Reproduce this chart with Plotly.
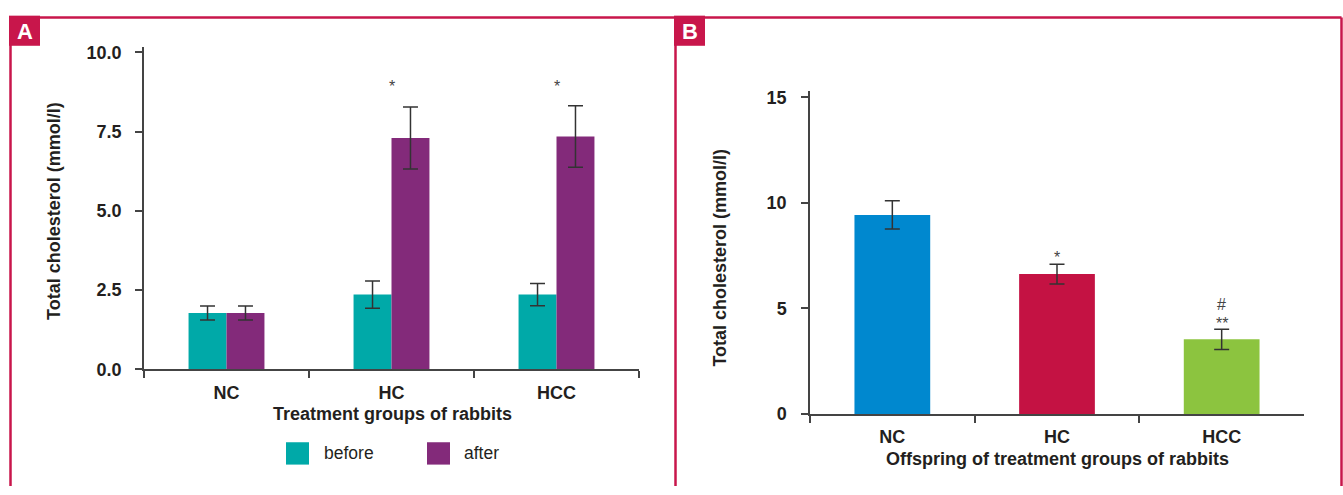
import plotly.graph_objects as go

# ---------------- data ----------------
groups = ["NC", "HC", "HCC"]
before_mean = [1.78, 2.36, 2.36]
before_err = [0.22, 0.43, 0.35]
after_mean = [1.78, 7.30, 7.35]
after_err = [0.22, 0.98, 0.97]
series_names = ["before", "after"]
sig_a_text = ["", "*", "*"]
sig_a_y = [None, 8.92, 8.92]

offspring_mean = [9.43, 6.63, 3.54]
offspring_err = [0.67, 0.47, 0.48]
sig_b = [("HC", 7.42, "*"), ("HCC", 4.30, "**"), ("HCC", 5.19, "#")]

yticks_a = [0, 2.5, 5.0, 7.5, 10.0]
yticks_b = [0, 5, 10, 15]

# ---------------- style ----------------
W, H = 1343, 495
FONT = "Liberation Sans, Arial, Helvetica, sans-serif"
TXT = "#231f20"
AX = "#444444"
RED = "#c8164b"
C_BEFORE = "#00a9a8"
C_AFTER = "#832a7a"
C_B = ["#0088cf", "#c41243", "#8cc43f"]


def px(x):
    return x / W


def py(y):
    return 1 - y / H


err_style = dict(type="data", color="#333333", thickness=1.5, width=7.5, visible=True)

fig = go.Figure()
fig.add_trace(go.Bar(x=groups, y=before_mean, name=series_names[0], marker_color=C_BEFORE,
                     marker_line_width=0, error_y=dict(array=before_err, **err_style),
                     xaxis="x", yaxis="y", showlegend=False))
fig.add_trace(go.Bar(x=groups, y=after_mean, name=series_names[1], marker_color=C_AFTER,
                     marker_line_width=0, error_y=dict(array=after_err, **err_style),
                     xaxis="x", yaxis="y", showlegend=False))
fig.add_trace(go.Bar(x=groups, y=offspring_mean, name="offspring", marker_color=C_B,
                     marker_line_width=0, error_y=dict(array=offspring_err, **err_style),
                     xaxis="x2", yaxis="y2", showlegend=False))

axis_common = dict(showline=True, linecolor=AX, linewidth=1.5, ticks="outside", ticklen=7,
                   tickcolor=AX, tickwidth=1.5, showgrid=False, zeroline=False,
                   tickfont=dict(family=FONT, size=18, color=TXT, weight="bold"),
                   fixedrange=True)

fig.update_layout(
    width=W, height=H, margin=dict(l=0, r=0, t=0, b=0),
    paper_bgcolor="white", plot_bgcolor="white",
    barmode="group", bargap=0.54, bargroupgap=0,
    showlegend=False,
    xaxis=dict(domain=[px(144), px(639)], anchor="y", type="category",
               tickson="boundaries", ticklabelstandoff=6, **axis_common),
    yaxis=dict(domain=[py(376), py(44)], anchor="x", range=[0, 10.18],
               tickvals=yticks_a, tickformat=".1f", ticklabelstandoff=10, **axis_common),
    xaxis2=dict(domain=[px(810), px(1304)], anchor="y2", type="category",
                tickson="boundaries", ticklabelstandoff=6, **axis_common),
    yaxis2=dict(domain=[py(422), py(90)], anchor="x2", range=[0, 15.28],
                tickvals=yticks_b, ticklabelstandoff=11, **axis_common),
)

shapes = []
line = dict(color=RED, width=2.5)
# frame lines
shapes.append(dict(type="line", xref="paper", yref="paper", x0=px(10.5), x1=px(1341.5), y0=py(14), y1=py(14), line=line))
shapes.append(dict(type="line", xref="paper", yref="paper", x0=px(10.5), x1=px(10.5), y0=py(14), y1=py(496), line=line))
shapes.append(dict(type="line", xref="paper", yref="paper", x0=px(675.5), x1=px(675.5), y0=py(14), y1=py(496), line=line))
shapes.append(dict(type="line", xref="paper", yref="paper", x0=px(1341.5), x1=px(1341.5), y0=py(14), y1=py(496), line=line))
# label boxes
for x0 in (9, 674):
    shapes.append(dict(type="rect", xref="paper", yref="paper", x0=px(x0), x1=px(x0 + 31),
                       y0=py(43), y1=py(12), fillcolor=RED, line=dict(width=0)))
# legend squares
for x0, col in ((286, C_BEFORE), (427, C_AFTER)):
    shapes.append(dict(type="rect", xref="paper", yref="paper", x0=px(x0), x1=px(x0 + 23),
                       y0=py(474), y1=py(451), fillcolor=col, line=dict(width=0)))

ann = []
for x0, lab in ((9, "A"), (674, "B")):
    ann.append(dict(text=lab, xref="paper", yref="paper", x=px(x0 + 15.5), y=py(28), showarrow=False,
                    xanchor="center", yanchor="middle",
                    font=dict(family=FONT, size=22, color="white", weight="bold")))
for xl, name in ((322, series_names[0]), (462, series_names[1])):
    ann.append(dict(text=name, xref="paper", yref="paper", x=px(xl), y=py(462.5), showarrow=False,
                    xanchor="left", yanchor="middle", font=dict(family=FONT, size=17.5, color=TXT)))
# axis titles
title_font = dict(family=FONT, size=18, color=TXT, weight="bold")
ann.append(dict(text="Total cholesterol (mmol/l)", xref="paper", yref="paper", x=px(54), y=py(213),
                textangle=-90, showarrow=False, xanchor="center", yanchor="middle", font=title_font))
ann.append(dict(text="Treatment groups of rabbits", xref="paper", yref="paper", x=px(392.7), y=py(421.5),
                showarrow=False, xanchor="center", yanchor="middle", font=title_font))
ann.append(dict(text="Total cholesterol (mmol/l)", xref="paper", yref="paper", x=px(720), y=py(261),
                textangle=-90, showarrow=False, xanchor="center", yanchor="middle", font=title_font))
ann.append(dict(text="Offspring of treatment groups of rabbits", xref="paper", yref="paper", x=px(1057), y=py(468),
                showarrow=False, xanchor="center", yanchor="middle", font=title_font))
# significance marks
mark_font = dict(family=FONT, size=16, color="#444")
for g, t, yv in zip(groups, sig_a_text, sig_a_y):
    if t:
        ann.append(dict(text=t, xref="x", yref="y", x=g, y=yv, showarrow=False,
                        xanchor="center", yanchor="middle", font=mark_font))
for g, yv, t in sig_b:
    ann.append(dict(text=t, xref="x2", yref="y2", x=g, y=yv, showarrow=False,
                    xanchor="center", yanchor="middle", font=mark_font))

fig.update_layout(shapes=shapes, annotations=ann)
fig.write_html("out.html")
